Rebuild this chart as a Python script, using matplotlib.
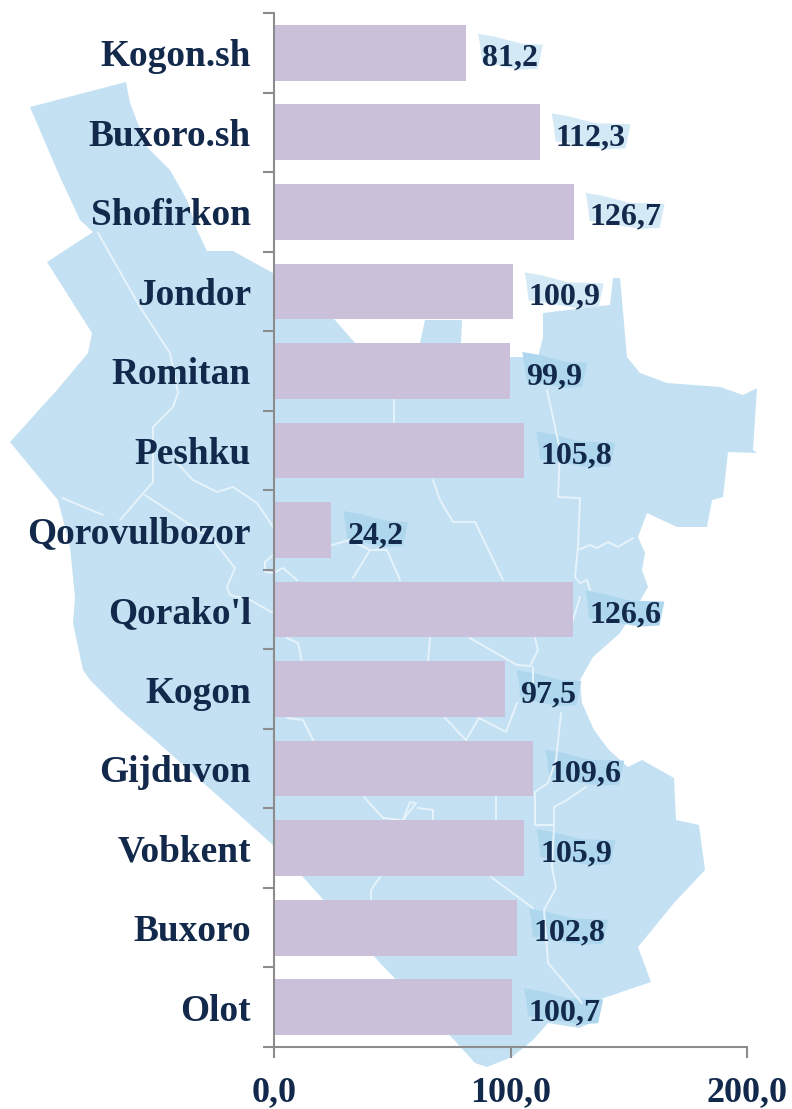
import matplotlib
matplotlib.use("Agg")
from matplotlib import pyplot as plt
from matplotlib.patches import Polygon

districts = ["Kogon.sh", "Buxoro.sh", "Shofirkon", "Jondor", "Romitan", "Peshku", "Qorovulbozor",
             "Qorako'l", "Kogon", "Gijduvon", "Vobkent", "Buxoro", "Olot"]
values = [81.2, 112.3, 126.7, 100.9, 99.9, 105.8, 24.2, 126.6, 97.5, 109.6, 105.9, 102.8, 100.7]
value_labels = ["81,2", "112,3", "126,7", "100,9", "99,9", "105,8", "24,2",
                "126,6", "97,5", "109,6", "105,9", "102,8", "100,7"]
x_ticks = [0, 100, 200]
x_labels = ["0,0", "100,0", "200,0"]

W, H = 792, 1109
NAVY = "#12294b"
MAP = "#c3e1f3"
BLOB = "#aed7ee"
BLOB_PALE = "#d3eaf6"
GREY = "#8c8c8c"

plt.rcParams['font.family'] = ['Liberation Serif', 'DejaVu Serif']
plt.rcParams['font.weight'] = 'bold'

# background map, traced in image pixels
outline = [(30, 107), (126, 82), (130, 103), (147, 147), (170, 170), (187, 200), (197, 230), (207, 251),
           (233, 251), (273, 273), (335, 320), (355, 343), (420, 343), (425, 320), (462, 320), (461, 343),
           (510, 357), (538, 357), (543, 337), (543, 313), (610, 305), (613, 278), (620, 278), (627, 357),
           (640, 373), (667, 383), (720, 387), (743, 395), (757, 388), (753, 450), (757, 453), (728, 452),
           (723, 497), (712, 500), (707, 527), (677, 527), (647, 513), (638, 537), (645, 553), (642, 570),
           (648, 587), (633, 613), (620, 633), (593, 657), (580, 680), (582, 703), (594, 730), (609, 750),
           (628, 767), (642, 760), (674, 778), (676, 820), (699, 825), (705, 870), (674, 903), (638, 947),
           (651, 982), (598, 1000), (598, 1020), (579, 1028), (548, 1023), (533, 1040), (512, 1057),
           (487, 1067), (475, 1063), (456, 1042), (380, 963), (303, 877), (273, 845), (163, 747), (120, 710),
           (90, 680), (83, 670), (73, 623), (75, 597), (70, 547), (58, 500), (47, 487), (10, 442), (57, 390),
           (88, 353), (92, 333), (47, 262), (93, 232), (80, 220), (60, 177)]

borders = [
    [(98, 233), (140, 307), (170, 353), (178, 393), (173, 407), (153, 427), (153, 482), (120, 520)],
    [(145, 495), (213, 540), (235, 568), (227, 587), (230, 595), (250, 600), (273, 613)],
    [(177, 463), (193, 480), (217, 492), (233, 487), (257, 503), (273, 527)],
    [(62, 498), (103, 515)],
    [(273, 555), (265, 562), (265, 572), (273, 573), (283, 568), (297, 580)],
    [(287, 638), (298, 643), (302, 662)],
    [(394, 400), (394, 422)],
    [(547, 390), (560, 450), (558, 497), (580, 498), (578, 547), (575, 577), (580, 583), (587, 580), (590, 590)],
    [(578, 550), (590, 545), (597, 548), (608, 542), (618, 547), (633, 538)],
    [(433, 480), (440, 500), (453, 522), (475, 522), (503, 580)],
    [(332, 545), (350, 540), (370, 550), (353, 578)],
    [(370, 550), (387, 550), (400, 580)],
    [(470, 638), (517, 665), (530, 666), (538, 650), (535, 638)],
    [(533, 667), (533, 683)],
    [(430, 638), (428, 662)],
    [(580, 597), (573, 620)],
    [(561, 713), (556, 760), (548, 783), (535, 792), (535, 825), (554, 825), (554, 807), (567, 800), (586, 787)],
    [(554, 827), (552, 867), (556, 888), (544, 910), (548, 963), (582, 1003)],
    [(491, 877), (533, 908)],
    [(496, 797), (496, 820)],
    [(445, 718), (466, 740), (479, 718), (506, 732), (517, 703)],
    [(364, 797), (383, 818), (403, 820), (410, 802), (416, 803), (403, 820)],
    [(418, 808), (433, 810), (433, 820)],
    [(380, 877), (371, 890), (371, 900)],
    [(287, 718), (303, 720), (313, 740)],
]


def swoosh(px, py, w):
    # brush stroke behind a value label, w is the label width
    pts = [(-4, -19), (13, -16), (40, -9), (w + 4, -8), (w - 1, 16), (w - 20, 17), (0, 9), (-2, -8)]
    return [(px + dx, py + dy) for dx, dy in pts]


fig = plt.figure(figsize=(W / 100, H / 100), dpi=100)

bg = fig.add_axes([0, 0, 1, 1], zorder=0)
bg.set_xlim(0, W)
bg.set_ylim(H, 0)
bg.axis('off')
bg.add_patch(Polygon(outline, closed=True, fc=MAP, ec='none'))
for line in borders:
    bg.plot([p[0] for p in line], [p[1] for p in line], color='#e6f3fb', lw=1.4, solid_capstyle='round')

ax = fig.add_axes([274 / W, 1 - 1047 / H, (747 - 274) / W, (1047 - 13) / H], zorder=1)
ax.patch.set_alpha(0)

y = list(range(len(values)))
ax.barh(y, values, height=0.7, color='#cbc0da')
ax.set_xlim(0, 200)
ax.set_ylim(len(values) - 0.5, -0.5)

ax.set_yticks([i - 0.5 for i in range(len(values) + 1)])
ax.set_yticklabels([])
for i, name in enumerate(districts):
    ax.annotate(name, (0, i), xytext=(-23, 0), textcoords='offset pixels', ha='right', va='center_baseline',
                color=NAVY, fontsize=26.9)
ax.set_xticks(x_ticks)
ax.set_xticklabels(x_labels, color=NAVY, fontsize=26)
ax.tick_params(axis='both', color=GREY, width=1.5, length=8)
ax.tick_params(axis='x', pad=13)

for side in ['top', 'right']:
    ax.spines[side].set_visible(False)
for side in ['left', 'bottom']:
    ax.spines[side].set_color(GREY)
    ax.spines[side].set_linewidth(1.5)

for i, (v, lab) in enumerate(zip(values, value_labels)):
    px, py = ax.transData.transform((v, i))
    # the top four sit on white, where the stroke is paler
    fc = BLOB_PALE if i < 4 else BLOB
    bg.add_patch(Polygon(swoosh(px + 16, H - py, 14.2 * len(lab)), closed=True, fc=fc, ec='none'))
    ax.annotate(lab, (v, i), xytext=(16, -2), textcoords='offset pixels', ha='left', va='center_baseline',
                color=NAVY, fontsize=23)

fig.savefig('out.png', dpi=100)
